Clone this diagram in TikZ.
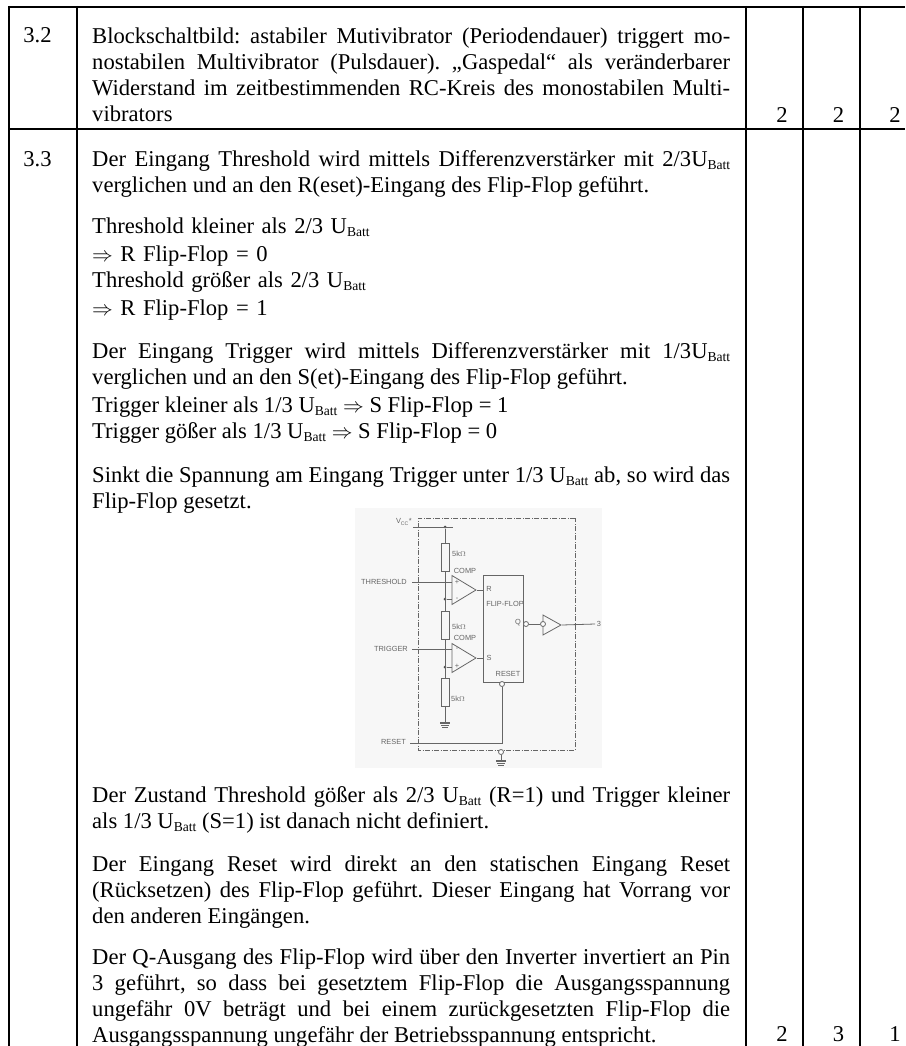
\documentclass[tikz,border=0pt]{standalone}
\usepackage{fontspec}
\setmainfont{Liberation Serif}
\newfontfamily\schemfont{Liberation Sans}
\usetikzlibrary{shapes.geometric}
\newcommand{\ubatt}{U\raisebox{-3pt}{\fontsize{13.6}{14}\selectfont Batt}}
\tikzset{
  rule/.style={line width=2pt},
  para/.style={anchor=north west,inner sep=0pt,text width=638pt,align=justify,font=\fontsize{22.6}{26}\selectfont\frenchspacing,execute at begin node=\strut},
  plain/.style={para,align=left},
  cell/.style={anchor=base,inner sep=0pt,font=\fontsize{22.6}{26}\selectfont},
  wire/.style={draw=black!60,line width=0.8pt},
  resbox/.style={draw=black!60,line width=0.8pt,minimum width=8pt,minimum height=28pt,inner sep=0pt},
  compbox/.style={draw=black!60,line width=0.8pt,isosceles triangle,isosceles triangle stretches,shape border rotate=0,minimum height=24pt,minimum width=29pt,inner sep=0pt,anchor=apex},
  invbox/.style={compbox,minimum height=18pt,minimum width=20pt},
  ring/.style={circle,draw=black!60,line width=0.8pt,fill=white,minimum size=5pt,inner sep=0pt},
  dot/.style={circle,fill=black!70,minimum size=3pt,inner sep=0pt},
  tag/.style={inner sep=0pt,text=black!60,font=\schemfont\fontsize{7.4}{8}\selectfont}
}
\begin{document}
\begin{tikzpicture}[x=1pt,y=-1pt]
    \useasboundingbox (0,0) rectangle (905,1046);
    % table rules
    \draw[rule] (8,7) -- (905,7);
    \draw[rule] (8,128.7) -- (905,128.7);
    \foreach \x in {9,77,746,803,860} \draw[rule] (\x,6) -- (\x,1046);
    % row numbers
    \node[cell] (nra) at (37.5,43) {3.2};
    \node[cell] (nrb) at (37.5,166) {3.3};
    \node[cell] (pa) at (782,122.5) {2};
    \node[cell] (pb) at (838.5,122.5) {2};
    \node[cell] (pc) at (895,122.5) {2};
    \node[cell] (pd) at (782,1041) {2};
    \node[cell] (pe) at (838.5,1041) {3};
    \node[cell] (pf) at (895,1041) {1};
    % text
    \node[para] (blocks) at (92,24.8) {Blockschaltbild: astabiler Mutivibrator (Periodendauer) triggert mo-\linebreak
      nostabilen Multivibrator (Pulsdauer). „Gaspedal“ als veränderbarer\linebreak
      Widerstand im zeitbestimmenden RC-Kreis des monostabilen Multi-\linebreak
      vibrators};
    \node[para] (thresh) at (92,147.8) {Der Eingang Threshold wird mittels Differenzverstärker mit 2/3\ubatt\linebreak
      verglichen und an den R(eset)-Eingang des Flip-Flop geführt.};
    \node[plain] (threshcases) at (92,215) {Threshold kleiner als 2/3 \ubatt\\[2pt]
      $\Rightarrow$ R Flip-Flop = 0\\
      Threshold größer als 2/3 \ubatt\\[2pt]
      $\Rightarrow$ R Flip-Flop = 1};
    \node[para] (trig) at (92,339.8) {Der Eingang Trigger wird mittels Differenzverstärker mit 1/3\ubatt\linebreak
      verglichen und an den S(et)-Eingang des Flip-Flop geführt.\vadjust{\vskip 2pt}\newline
      Trigger kleiner als 1/3 \ubatt{} $\Rightarrow$ S Flip-Flop = 1\newline
      Trigger gößer als 1/3 \ubatt{} $\Rightarrow$ S Flip-Flop = 0};
    \node[para] (sinkt) at (92,463.8) {Sinkt die Spannung am Eingang Trigger unter 1/3 \ubatt{} ab, so wird das\linebreak
      Flip-Flop gesetzt.};
    \node[para] (zustand) at (92,783.8) {Der Zustand Threshold gößer als 2/3 \ubatt{} (R=1) und Trigger kleiner\linebreak
      als 1/3 \ubatt{} (S=1) ist danach nicht definiert.};
    \node[para] (reset) at (92,852.8) {Der Eingang Reset wird direkt an den statischen Eingang Reset\linebreak
      (Rücksetzen) des Flip-Flop geführt. Dieser Eingang hat Vorrang vor\linebreak
      den anderen Eingängen.};
    \node[para] (qaus) at (92,945.8) {Der Q-Ausgang des Flip-Flop wird über den Inverter invertiert an Pin\linebreak
      3 geführt, so dass bei gesetztem Flip-Flop die Ausgangsspannung\linebreak
      ungefähr 0V beträgt und bei einem zurückgesetzten Flip-Flop die\linebreak
      Ausgangsspannung ungefähr der Betriebsspannung entspricht.};
    % schematic
    \fill[black!3] (355,508) rectangle (602,768);
    \draw[black!60,line width=0.9pt,dash pattern=on 5pt off 1.5pt on 1pt off 1.5pt] (575,518) -- (418,518) -- (418,750) -- (575,750) -- cycle;
    \node[resbox] (ra) at (445,557) {};
    \node[resbox] (rb) at (445,625) {};
    \node[resbox] (rc) at (445,692) {};
    \node[compbox] (compa) at (477,590) {};
    \node[compbox] (compb) at (477,658) {};
    \node[draw=black!60,line width=0.9pt,minimum width=40pt,minimum height=107pt,inner sep=0pt] (ff) at (503,628.5) {};
    \node[invbox] (inv) at (562,625) {};
    \node[ring] (qa) at (526,624) {};
    \node[ring] (qb) at (543,624) {};
    \node[ring] (rring) at (502,684) {};
    \node[ring] (gring) at (501,752) {};
    \node[dot] (vdot) at (445,527) {};
    \node[dot] (jca) at (445,599) {};
    \node[dot] (jcb) at (445,667) {};
    \coordinate (vl) at (413,527);
    \coordinate (vr) at (453,527);
    \coordinate (thin) at (412,582);
    \coordinate (trin) at (412,649);
    \coordinate (rsin) at (410,743);
    \coordinate (out) at (595,624);
    \coordinate (gnda) at (445,723);
    \coordinate (gndb) at (501,761);
    \draw[wire] (vl) -- (vr);
    \draw[wire] (vdot) -- (ra) -- (rb) -- (rc) -- (gnda);
    \draw[wire] (thin) -- (thin -| compa.lower side);
    \draw[wire] (trin) -- (trin -| compb.lower side);
    \draw[wire] (jca) -- (jca -| compa.lower side);
    \draw[wire] (jcb) -- (jcb -| compb.lower side);
    \draw[wire] (compa.apex) -- (compa.apex -| ff.west);
    \draw[wire] (compb.apex) -- (compb.apex -| ff.west);
    \draw[wire] (qa) -- (qb);
    \draw[wire] (inv.apex) -- (out);
    \draw[wire] (rsin) -| (rring);
    \draw[wire] (gring) -- (gndb);
    \foreach \g in {gnda,gndb} {
      \draw[wire,line width=1.2pt] ([xshift=-5pt]\g) -- ([xshift=5pt]\g);
      \draw[wire] ([xshift=-4pt,yshift=-2pt]\g) -- ([xshift=4pt,yshift=-2pt]\g);
      \draw[wire] ([xshift=-3pt,yshift=-4pt]\g) -- ([xshift=3pt,yshift=-4pt]\g);
    }
    % schematic labels
    \node[tag,anchor=east] (lvcc) at (412,522) {V\textsubscript{CC}*};
    \node[tag,anchor=east] (lthr) at (407,582) {THRESHOLD};
    \node[tag,anchor=east] (ltrg) at (408,649) {TRIGGER};
    \node[tag,anchor=east] (lrst) at (406,742) {RESET};
    \node[tag,anchor=west] (lra) at (452,554) {5k$\Omega$};
    \node[tag,anchor=west] (lrb) at (452,627) {5k$\Omega$};
    \node[tag,anchor=west] (lrc) at (451,699) {5k$\Omega$};
    \node[tag] (lca) at (465,571) {COMP};
    \node[tag] (lcb) at (465,638) {COMP};
    \node[tag] (lr) at (489,589) {R};
    \node[tag] (ls) at (489,658) {S};
    \node[tag] (lff) at (505,604) {FLIP-FLOP};
    \node[tag] (lq) at (518,623) {Q};
    \node[tag] (lreset) at (508,674) {RESET};
    \node[tag] (lout) at (599,624) {3};
    \node[tag] (lpa) at (457,582) {+};
    \node[tag] (lma) at (457,599) {-};
    \node[tag] (lmb) at (457,649) {-};
    \node[tag] (lpb) at (457,666) {+};
\end{tikzpicture}
\end{document}
